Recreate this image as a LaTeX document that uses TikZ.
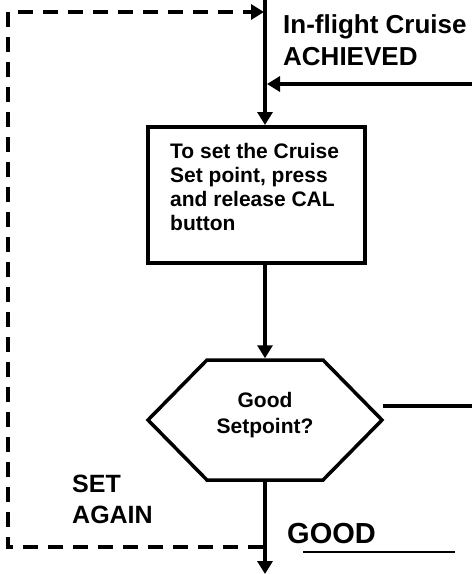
\documentclass[tikz,border=0pt]{standalone}
\usepackage{fontspec}
\setmainfont{Liberation Sans}
\usetikzlibrary{shapes}
\usetikzlibrary{arrows.meta}

\begin{document}
\begin{tikzpicture}[x=1pt,y=-1pt]
				\tikzstyle{flow}=[line width=4pt]
				\tikzstyle{arr}=[-{Triangle[length=13pt,width=15pt]}]
				\tikzstyle{loop}=[flow,dash pattern=on 15pt off 10pt]
				\tikzstyle{stepbox}=[draw,line width=4pt,minimum width=217pt,minimum height=136pt,inner sep=0pt]
				\tikzstyle{decide}=[draw,line width=3.5pt,signal,signal to=east and west,signal pointer angle=91,minimum width=234pt,minimum height=120pt,inner sep=0pt]
				\tikzstyle{lbl}=[inner sep=0pt,align=left,font=\bfseries]
				\useasboundingbox (0,0) rectangle (472,574);
				\node[stepbox] (setbox) at (256.5,195) {};
				\node[lbl,anchor=base west,font=\bfseries\fontsize{21}{24}\selectfont] (settext) at (170,230) {To set the Cruise\\Set point, press\\and release CAL\\button};
				\node[decide] (check) at (265,420) {};
				\node[lbl,align=center,anchor=base,font=\bfseries\fontsize{21}{26}\selectfont] (checktext) at (265,433) {Good\\Setpoint?};
				\node[lbl,anchor=base west,font=\bfseries\fontsize{26}{32}\selectfont] (cruise) at (283,65) {In-flight Cruise\\ACHIEVED};
				\node[lbl,anchor=base west,font=\bfseries\fontsize{25}{31}\selectfont] (again) at (72,523) {SET\\AGAIN};
				\node[lbl,anchor=base west,font=\bfseries\fontsize{29}{34}\selectfont] (good) at (287,543) {GOOD};
				\coordinate (topin) at (265,0);
				\coordinate (cruisein) at (472,84);
				\coordinate (badout) at (472,406);
				\coordinate (out) at (265,574);
				\coordinate (loopstart) at (263,547);
				\coordinate (loopend) at (264,12);
				\draw[flow,arr] (topin) -- (topin |- setbox.north);
				\draw[flow,arr] (cruisein) -- (267,84);
				\draw[flow,arr] (topin |- setbox.south) -- (check.north);
				\draw[flow] (383,406) -- (badout);
				\draw[flow,arr] (check.south) -- (out);
				\draw[loop,arr] (loopstart) -| (8,12) -- (loopend);
				\draw[line width=1.5pt] (303,552) -- (455,552);
\end{tikzpicture}
\end{document}
